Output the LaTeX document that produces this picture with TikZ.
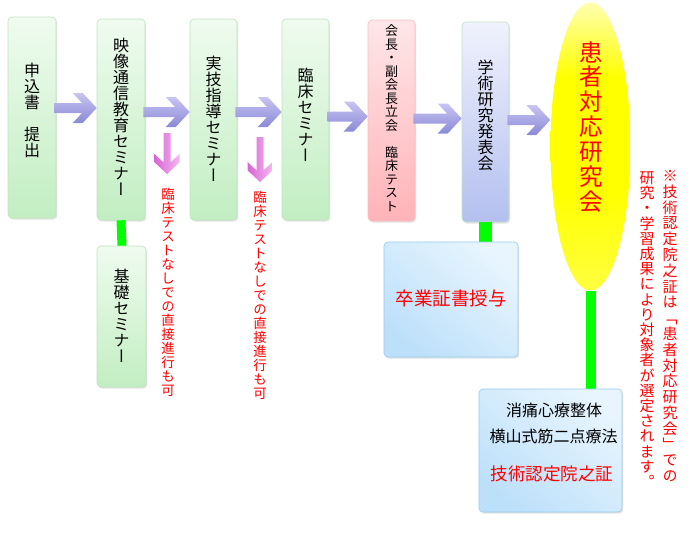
\documentclass[tikz,border=0pt]{standalone}
\usepackage{fontspec}
\newfontfamily\jpv[RawFeature=+vert]{Noto Sans CJK JP}
\newfontfamily\jph{Noto Sans CJK JP}
\usetikzlibrary{shapes.geometric,shadows,calc}
\definecolor{gtop}{HTML}{EFFBEF}
\definecolor{gbot}{HTML}{C2EEC2}
\definecolor{gbord}{HTML}{BFE3BF}
\definecolor{ptop}{HTML}{FFE6E8}
\definecolor{pbot}{HTML}{FFB3B8}
\definecolor{pbord}{HTML}{F5BFC2}
\definecolor{ltop}{HTML}{F0F2FC}
\definecolor{lbot}{HTML}{B3BFEF}
\definecolor{lbord}{HTML}{C4E2C4}
\definecolor{btop}{HTML}{E8F5FE}
\definecolor{bbot}{HTML}{BDE0FA}
\definecolor{bbord}{HTML}{95CBEE}
\definecolor{atop}{HTML}{C8C4F2}
\definecolor{abot}{HTML}{8A8AD6}
\definecolor{mtop}{HTML}{D865D8}
\definecolor{mbot}{HTML}{F4B8F0}
\definecolor{glin}{HTML}{00FF00}
\definecolor{rtx}{HTML}{FF0000}
\definecolor{ylite}{HTML}{FFFFB0}
\definecolor{ymid}{HTML}{FFFF40}
\definecolor{yfull}{HTML}{FFFF00}
\pgfdeclareverticalshading{ellshade}{100bp}{color(0bp)=(ymid); color(25bp)=(ymid); color(42bp)=(yfull); color(62bp)=(yfull); color(75bp)=(ylite); color(100bp)=(ylite)}
\makeatletter
\def\vcstop{\vcstop}
\newcommand\vchars[2][0pt]{\vbox{\offinterlineskip\def\vgap{#1}\vch@r#2\vcstop}}
\def\vch@r#1{\ifx#1\vcstop\else\hbox to 1em{\hss\vrule height .88em depth .12em width 0pt\relax#1\hss}\vskip\vgap\relax\expandafter\vch@r\fi}
\makeatother
\tikzset{
  box/.style={rectangle, rounded corners=4pt, line width=0.6pt,
    drop shadow={opacity=0.22, shadow xshift=1.2pt, shadow yshift=-1.6pt}},
  gbox/.style={box, draw=gbord, top color=gtop, bottom color=gbot},
  pbox/.style={box, draw=pbord, top color=ptop, bottom color=pbot},
  lbox/.style={box, draw=lbord, top color=ltop, bottom color=lbot},
  bbox/.style={box, draw=bbord, top color=btop, bottom color=bbot, shading angle=-40},
  vtxt/.style={inner sep=0pt, text=black},
  rtxt/.style={inner sep=0pt, text=rtx},
  parrow/.style={top color=atop, bottom color=abot},
  marrow/.style={left color=mtop, right color=mbot},
  gconn/.style={draw=glin, line width=10pt},
}
\newcommand\harrow[4]{%
  \coordinate (#4y) at (0,#3);
  \coordinate (#4s) at (#1.east |- #4y);
  \coordinate (#4e) at (#2.west |- #4y);
  \path[parrow] ($(#4s)+(-2,-5)$) -- ($(#4e)+(-14.7,-5)$) -- ($(#4e)+(-24,-15)$)
    -- ($(#4e)+(-14,-15)$) -- (#4e) -- ($(#4e)+(-14,15)$) -- ($(#4e)+(-24,15)$)
    -- ($(#4e)+(-14.7,5)$) -- ($(#4s)+(-2,5)$) -- cycle;}
\newcommand\varrow[2]{%
  \path[marrow] ($(#1)+(-3.5,0)$) -- ($(#2)+(-3.5,-11.6)$) -- ($(#2)+(-12.5,-20)$)
    -- ($(#2)+(-12.5,-11.7)$) -- (#2) -- ($(#2)+(12.5,-11.7)$) -- ($(#2)+(12.5,-20)$)
    -- ($(#2)+(3.5,-11.6)$) -- ($(#1)+(3.5,0)$) -- cycle;}
\begin{document}
\begin{tikzpicture}[x=1pt,y=-1pt]
\useasboundingbox[fill=white] (0,0) rectangle (700,550);
% boxes
\node[gbox, minimum width=48, minimum height=201] (b1) at (32,117.5) {};
\node[gbox, minimum width=48, minimum height=201] (b2) at (121,119.5) {};
\node[gbox, minimum width=47, minimum height=201] (b3) at (213.5,119.5) {};
\node[gbox, minimum width=47, minimum height=201] (b4) at (305.5,119.5) {};
\node[pbox, minimum width=47, minimum height=201] (b5) at (391.5,120.5) {};
\node[lbox, minimum width=47, minimum height=200] (b6) at (485.5,122) {};
\node[ellipse, minimum width=80, minimum height=288, shading=ellshade] (ell) at (590.5,146.5) {};
% connectors
\draw[gconn, line width=9pt] (b2.south) -- (122,246) coordinate (kisotop);
\node[gbox, minimum width=49, minimum height=141] (kiso) at (121.5,316.5) {};
\draw[gconn, line width=13pt] (b6.south) -- (485.5,242) coordinate (sotsutop);
\node[bbox, minimum width=134, minimum height=115] (sotsu) at (451,299.5) {};
\draw[gconn] (ell.south) -- (ell.south |- 0,389) coordinate (nintop);
\node[bbox, minimum width=143, minimum height=123] (nin) at (550.5,450.5) {};
% arrows
\harrow{b1}{b2}{108}{a1}
\harrow{b2}{b3}{112}{a2}
\harrow{b3}{b4}{112}{a3}
\harrow{b4}{b5}{116.5}{a4}
\harrow{b5}{b6}{118.5}{a5}
\harrow{b6}{ell}{120}{a6}
\coordinate (pa1s) at (167,133);
\coordinate (pa1e) at (167,174);
\coordinate (pa2s) at (260,137);
\coordinate (pa2e) at (260,182);
\varrow{pa1s}{pa1e}
\varrow{pa2s}{pa2e}
% texts in boxes
\node[vtxt, font=\jpv\fontsize{16}{16}\selectfont] (t1) at (32,110) {\vchars{申込書　提出}};
\node[vtxt, font=\jpv\fontsize{16}{16}\selectfont] (t2) at (121,117.5) {\vchars{映像通信教育セミナー}};
\node[vtxt, font=\jpv\fontsize{16}{16}\selectfont] (t3) at (213.5,119) {\vchars{実技指導セミナー}};
\node[vtxt, font=\jpv\fontsize{16}{16}\selectfont] (t4) at (305.5,115.5) {\vchars{臨床セミナー}};
\node[vtxt, font=\jpv\fontsize{13}{13}\selectfont] (t5) at (391.5,119) {\vchars[0.5pt]{会長・副会長立会　臨床テスト}};
\node[vtxt, font=\jpv\fontsize{16}{16}\selectfont] (t6) at (485.5,115) {\vchars{学術研究発表会}};
\node[vtxt, font=\jpv\fontsize{16}{16}\selectfont] (tk) at (121.5,316.5) {\vchars{基礎セミナー}};
\node[rtxt, font=\jpv\fontsize{23.5}{23.5}\selectfont] (te) at (591,127.5) {\vchars[1.4pt]{患者対応研究会}};
% red notes
\node[rtxt, anchor=north, font=\jpv\fontsize{13.5}{13.5}\selectfont] (n1) at (168,187) {\vchars[0.5pt]{臨床テストなしでの直接進行も可}};
\node[rtxt, anchor=north, font=\jpv\fontsize{13.5}{13.5}\selectfont] (n2) at (260,190) {\vchars[0.5pt]{臨床テストなしでの直接進行も可}};
\node[rtxt, anchor=north, font=\jpv\fontsize{15}{15}\selectfont] (r1) at (670,168) {\vchars[0.8pt]{※技術認定院之証は「患者対応研究会」での}};
\node[rtxt, anchor=north, font=\jpv\fontsize{15}{15}\selectfont] (r2) at (647,170) {\vchars[0.2pt]{研究・学習成果により対象者が選定されます。}};
% horizontal texts
\node[rtxt, font=\jph\fontsize{18.5}{18.5}\selectfont] (st) at (451,298) {卒業証書授与};
\node[vtxt, font=\jph\fontsize{16}{16}\selectfont] (nt1) at (554,410) {消痛心療整体};
\node[vtxt, font=\jph\fontsize{16}{16}\selectfont] (nt2) at (553.5,436) {横山式筋二点療法};
\node[rtxt, font=\jph\fontsize{17.5}{17.5}\selectfont] (nt3) at (552,474) {技術認定院之証};
\end{tikzpicture}
\end{document}
